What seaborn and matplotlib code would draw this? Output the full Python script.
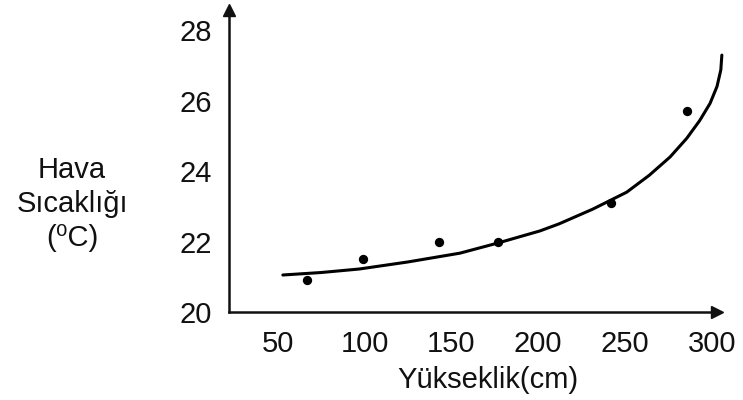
import pandas as pd
import seaborn as sns
import matplotlib.pyplot as plt

# ----------------------------------------
# Data
# ----------------------------------------

# measured points: height (cm) vs air temperature (C)
height_cm = [67, 99, 143, 177, 242, 286]
temp_c = [20.9, 21.5, 22.0, 22.0, 23.1, 25.7]

# hand drawn trend curve
curve_x = [53, 75, 97, 125, 155, 177, 201, 212, 231.5, 251, 264, 276, 285.6, 293, 299, 303, 305.2, 305.8]
curve_y = [21.05, 21.12, 21.22, 21.42, 21.67, 21.96, 22.3, 22.5, 22.92, 23.4, 23.88, 24.4, 24.93, 25.43, 25.92, 26.4, 26.87, 27.29]

x_ticks = [50, 100, 150, 200, 250, 300]
y_ticks = [20, 22, 24, 26, 28]

points = pd.DataFrame({"height": height_cm, "temp": temp_c})
curve = pd.DataFrame({"height": curve_x, "temp": curve_y})

# ----------------------------------------
# Plot
# ----------------------------------------

sns.set_style("white")
plt.rcParams["font.family"] = ["Liberation Sans", "DejaVu Sans"]

fig = plt.figure(figsize=(7.43, 4.0), dpi=100)
ax = fig.add_axes([229 / 743, 88 / 400, (717 - 229) / 743, (312 - 10) / 400])

sns.lineplot(data=curve, x="height", y="temp", sort=False, estimator=None,
             color="black", linewidth=2.2, ax=ax, clip_on=False)
sns.scatterplot(data=points, x="height", y="temp", color="black", s=45,
                edgecolor="black", linewidth=0, ax=ax, zorder=3)

ax.set_xlim(22, 303)
ax.set_ylim(20, 28.57)
ax.set_xticks(x_ticks)
ax.set_yticks(y_ticks)
ax.tick_params(axis="both", length=0, labelsize=21, colors="#111111")
ax.tick_params(axis="x", pad=13)
ax.tick_params(axis="y", pad=12)
ax.set_xlabel("")
ax.set_ylabel("")

for side in ["top", "right"]:
    ax.spines[side].set_visible(False)
for side in ["left", "bottom"]:
    ax.spines[side].set_linewidth(1.8)
    ax.spines[side].set_color("#111111")

# arrow heads on the axes
ax.plot(1, 0, ">", color="#111111", markersize=9, transform=ax.transAxes, clip_on=False)
ax.plot(0, 1, "^", color="#111111", markersize=9, transform=ax.transAxes, clip_on=False)

fig.text(72 / 743, 1 - 204 / 400, "Hava\nSıcaklığı\n(⁰C)", ha="center", va="center",
         multialignment="center", fontsize=21, linespacing=1.25, color="#111111")
fig.text(488 / 743, 1 - 380 / 400, "Yükseklik(cm)", ha="center", va="center",
         fontsize=21, color="#111111")

plt.savefig("out.png", dpi=100)
